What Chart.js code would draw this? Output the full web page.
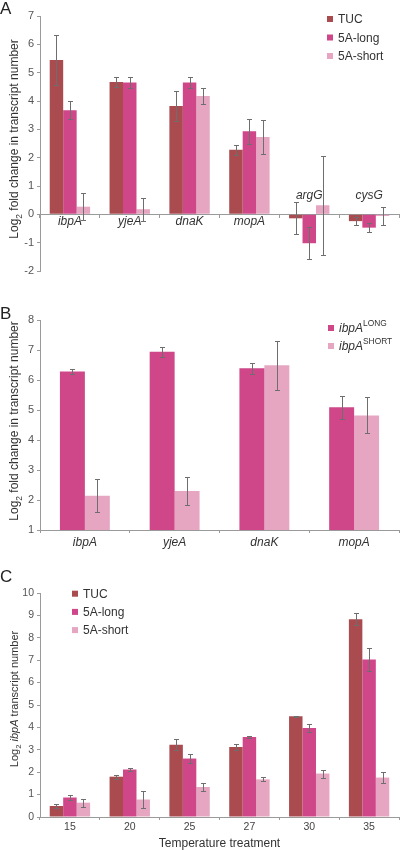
<!DOCTYPE html>
<html>
<head>
<meta charset="utf-8">
<script src="https://cdn.jsdelivr.net/npm/chart.js@4.4.1/dist/chart.umd.min.js"></script>
<style>
  html, body { margin: 0; padding: 0; background: #fff; }
  canvas { display: block; }
</style>
</head>
<body>
<canvas id="chartA" width="400" height="285"></canvas>
<canvas id="chartB" width="400" height="270"></canvas>
<canvas id="chartC" width="400" height="295"></canvas>
<script>
// --- data ---
const genesA = ["ibpA", "yjeA", "dnaK", "mopA", "argG", "cysG"];
const tucA = [5.45, 4.67, 3.82, 2.28, -0.14, -0.24];
const tucErrA = [0.87, 0.19, 0.54, 0.17, 0.56, 0.15];
const longA = [3.67, 4.65, 4.65, 2.93, -1.02, -0.47];
const longErrA = [0.32, 0.19, 0.19, 0.44, 0.56, 0.15];
const shortA = [0.27, 0.18, 4.18, 2.73, 0.32, -0.06];
const shortErrA = [0.47, 0.40, 0.28, 0.60, 1.74, 0.31];
const yTicksA = [-2, -1, 0, 1, 2, 3, 4, 5, 6, 7];

const genesB = ["ibpA", "yjeA", "dnaK", "mopA"];
const longB = [6.28, 6.94, 6.39, 5.09];
const longErrB = [0.09, 0.16, 0.18, 0.38];
const shortB = [2.14, 2.30, 6.49, 4.82];
const shortErrB = [0.55, 0.48, 0.81, 0.60];
const yTicksB = [1, 2, 3, 4, 5, 6, 7, 8];

const tempsC = ["15", "20", "25", "27", "30", "35"];
const tucC = [0.49, 1.80, 3.23, 3.13, 4.50, 8.83];
const tucErrC = [0.10, 0.09, 0.26, 0.14, 0.02, 0.26];
const longC = [0.87, 2.12, 2.61, 3.57, 3.97, 7.03];
const longErrC = [0.10, 0.08, 0.20, 0.03, 0.16, 0.51];
const shortC = [0.64, 0.78, 1.34, 1.68, 1.94, 1.76];
const shortErrC = [0.18, 0.38, 0.17, 0.09, 0.18, 0.26];
const yTicksC = [0, 1, 2, 3, 4, 5, 6, 7, 8, 9, 10];

const seriesNames = ["TUC", "5A-long", "5A-short"];

const COLORS = { tuc: "#a94b4f", long: "#cf4689", short: "#e6a6c1" };
const FONT = "'Liberation Sans', Arial, sans-serif";
const AXIS = "#9a9a9a";
const TEXT = "#333";

Chart.defaults.font.family = FONT;
Chart.defaults.color = TEXT;

function bars(label, data, errors, color) {
    return { label, data, errors, backgroundColor: color, borderWidth: 0, barPercentage: 1 };
}

// error bars drawn from the same data through the y scale
const errorBars = {
    id: "errorBars",
    afterDatasetsDraw(chart) {
        const ctx = chart.ctx;
        const y = chart.scales.y;
        ctx.save();
        ctx.strokeStyle = "#6e6e6e";
        ctx.lineWidth = 1;
        chart.data.datasets.forEach((ds, di) => {
            chart.getDatasetMeta(di).data.forEach((bar, i) => {
                const v = ds.data[i];
                const e = ds.errors[i];
                const x = Math.round(bar.x) + 0.5;
                const top = Math.round(y.getPixelForValue(v + e)) + 0.5;
                const bot = Math.round(y.getPixelForValue(v - e)) + 0.5;
                ctx.beginPath();
                ctx.moveTo(x, top); ctx.lineTo(x, bot);
                ctx.moveTo(x - 2.5, top); ctx.lineTo(x + 2.5, top);
                ctx.moveTo(x - 2.5, bot); ctx.lineTo(x + 2.5, bot);
                ctx.stroke();
            });
        });
        ctx.restore();
    },
};

// text made of runs: { t, sub, sup, italic }
function drawRuns(ctx, runs, size) {
    let x = 0;
    runs.forEach((r) => {
        const s = r.sub || r.sup ? size * 0.7 : size;
        ctx.font = `${r.italic ? "italic " : ""}${s}px ${FONT}`;
        const dy = r.sub ? size * 0.3 : r.sup ? -size * 0.42 : 0;
        ctx.fillText(r.t, x, dy);
        x += ctx.measureText(r.t).width;
    });
    return x;
}

function runsWidth(ctx, runs, size) {
    let w = 0;
    runs.forEach((r) => {
        const s = r.sub || r.sup ? size * 0.7 : size;
        ctx.font = `${r.italic ? "italic " : ""}${s}px ${FONT}`;
        w += ctx.measureText(r.t).width;
    });
    return w;
}

function yTitle(ctx, runs, size, x, cy) {
    ctx.save();
    ctx.fillStyle = TEXT;
    ctx.textBaseline = "alphabetic";
    ctx.translate(x, cy);
    ctx.rotate(-Math.PI / 2);
    const w = runsWidth(ctx, runs, size);
    ctx.translate(-w / 2, 0);
    drawRuns(ctx, runs, size);
    ctx.restore();
}

function panelLetter(ctx, letter, y) {
    ctx.save();
    ctx.fillStyle = "#222";
    ctx.font = `17px ${FONT}`;
    ctx.textBaseline = "alphabetic";
    ctx.fillText(letter, 0, y);
    ctx.restore();
}

function legend(ctx, items, x, y0, step) {
    ctx.save();
    items.forEach((it, i) => {
        const cy = y0 + i * step;
        ctx.fillStyle = it.color;
        ctx.fillRect(x, cy - 3, 6, 6);
        ctx.fillStyle = TEXT;
        ctx.textBaseline = "middle";
        ctx.save();
        ctx.translate(x + 11, cy + 1);
        drawRuns(ctx, it.runs, 12);
        ctx.restore();
    });
    ctx.restore();
}

function yScale(ticks, fontSize) {
    return {
        min: ticks[0],
        max: ticks[ticks.length - 1],
        ticks: { stepSize: 1, color: "#555", font: { size: fontSize }, padding: 3 },
        grid: { drawOnChartArea: false, tickLength: 3, color: AXIS },
        border: { color: AXIS },
        afterFit(s) { s.width = 40; },
    };
}

const baseOptions = {
    responsive: false,
    animation: false,
    plugins: { legend: { display: false }, tooltip: { enabled: false } },
};

// ---------- Panel A ----------
new Chart(document.getElementById("chartA"), {
    type: "bar",
    data: {
        labels: genesA,
        datasets: [
            bars(seriesNames[0], tucA, tucErrA, COLORS.tuc),
            bars(seriesNames[1], longA, longErrA, COLORS.long),
            bars(seriesNames[2], shortA, shortErrA, COLORS.short),
        ],
    },
    options: {
        ...baseOptions,
        layout: { padding: { top: 16, bottom: 14, right: 1, left: 0 } },
        datasets: { bar: { categoryPercentage: 0.675 } },
        scales: {
            x: {
                position: { y: 0 },
                ticks: { display: false },
                grid: { drawOnChartArea: false, tickLength: 3, color: AXIS, offset: true },
                border: { color: AXIS },
            },
            y: yScale(yTicksA, 11),
        },
    },
    plugins: [
        errorBars,
        {
            id: "decorA",
            afterDraw(chart) {
                const ctx = chart.ctx;
                const xs = chart.scales.x;
                const ys = chart.scales.y;
                const zero = ys.getPixelForValue(0);
                ctx.save();
                ctx.fillStyle = TEXT;
                ctx.font = `italic 12px ${FONT}`;
                ctx.textAlign = "center";
                ctx.textBaseline = "alphabetic";
                genesA.forEach((g, i) => {
                    const below = Math.min(tucA[i], longA[i], shortA[i]) >= 0;
                    ctx.fillText(g, xs.getPixelForValue(i), below ? zero + 11 : zero - 15);
                });
                ctx.restore();
                yTitle(ctx, [{ t: "Log" }, { t: "2", sub: true }, { t: " fold change in transcript number" }], 12, 18, 139);
                panelLetter(ctx, "A", 14);
                legend(ctx, seriesNames.map((n, i) => ({
                    color: [COLORS.tuc, COLORS.long, COLORS.short][i],
                    runs: [{ t: n }],
                })), 327, 19, 18.5);
            },
        },
    ],
});

// ---------- Panel B ----------
new Chart(document.getElementById("chartB"), {
    type: "bar",
    data: {
        labels: genesB,
        datasets: [
            bars("ibpA LONG", longB, longErrB, COLORS.long),
            bars("ibpA SHORT", shortB, shortErrB, COLORS.short),
        ],
    },
    options: {
        ...baseOptions,
        layout: { padding: { top: 35, bottom: 0, right: 1, left: 0 } },
        datasets: { bar: { categoryPercentage: 0.556 } },
        scales: {
            x: {
                ticks: { color: TEXT, font: { size: 12, style: "italic" }, padding: 2 },
                grid: { drawOnChartArea: false, tickLength: 3, color: AXIS, offset: true },
                border: { color: AXIS },
                afterFit(s) { s.height = 25; },
            },
            y: yScale(yTicksB, 11),
        },
    },
    plugins: [
        errorBars,
        {
            id: "decorB",
            afterDraw(chart) {
                const ctx = chart.ctx;
                yTitle(ctx, [{ t: "Log" }, { t: "2", sub: true }, { t: " fold change in transcript number" }], 12, 18, 136);
                panelLetter(ctx, "B", 33.5);
                legend(ctx, [
                    { color: COLORS.long, runs: [{ t: "ibpA", italic: true }, { t: "LONG", sup: true }] },
                    { color: COLORS.short, runs: [{ t: "ibpA", italic: true }, { t: "SHORT", sup: true }] },
                ], 328, 43, 18);
            },
        },
    ],
});

// ---------- Panel C ----------
new Chart(document.getElementById("chartC"), {
    type: "bar",
    data: {
        labels: tempsC,
        datasets: [
            bars(seriesNames[0], tucC, tucErrC, COLORS.tuc),
            bars(seriesNames[1], longC, longErrC, COLORS.long),
            bars(seriesNames[2], shortC, shortErrC, COLORS.short),
        ],
    },
    options: {
        ...baseOptions,
        layout: { padding: { top: 38, bottom: 0, right: 1, left: 0 } },
        datasets: { bar: { categoryPercentage: 0.675 } },
        scales: {
            x: {
                ticks: { color: "#444", font: { size: 10.5 }, padding: 1 },
                grid: { drawOnChartArea: false, tickLength: 3, color: AXIS, offset: true },
                border: { color: AXIS },
                afterFit(s) { s.height = 33; },
            },
            y: yScale(yTicksC, 10.5),
        },
    },
    plugins: [
        errorBars,
        {
            id: "decorC",
            afterDraw(chart) {
                const ctx = chart.ctx;
                const xs = chart.scales.x;
                yTitle(ctx, [{ t: "Log" }, { t: "2", sub: true }, { t: " " }, { t: "ibpA", italic: true }, { t: " transcript number" }], 11, 18, 144);
                panelLetter(ctx, "C", 27);
                ctx.save();
                ctx.fillStyle = TEXT;
                ctx.font = `12px ${FONT}`;
                ctx.textAlign = "center";
                ctx.textBaseline = "alphabetic";
                ctx.fillText("Temperature treatment", (xs.left + xs.right) / 2, 291.5);
                ctx.restore();
                legend(ctx, seriesNames.map((n, i) => ({
                    color: [COLORS.tuc, COLORS.long, COLORS.short][i],
                    runs: [{ t: n }],
                })), 72, 38.7, 18.2);
            },
        },
    ],
});
</script>
</body>
</html>
